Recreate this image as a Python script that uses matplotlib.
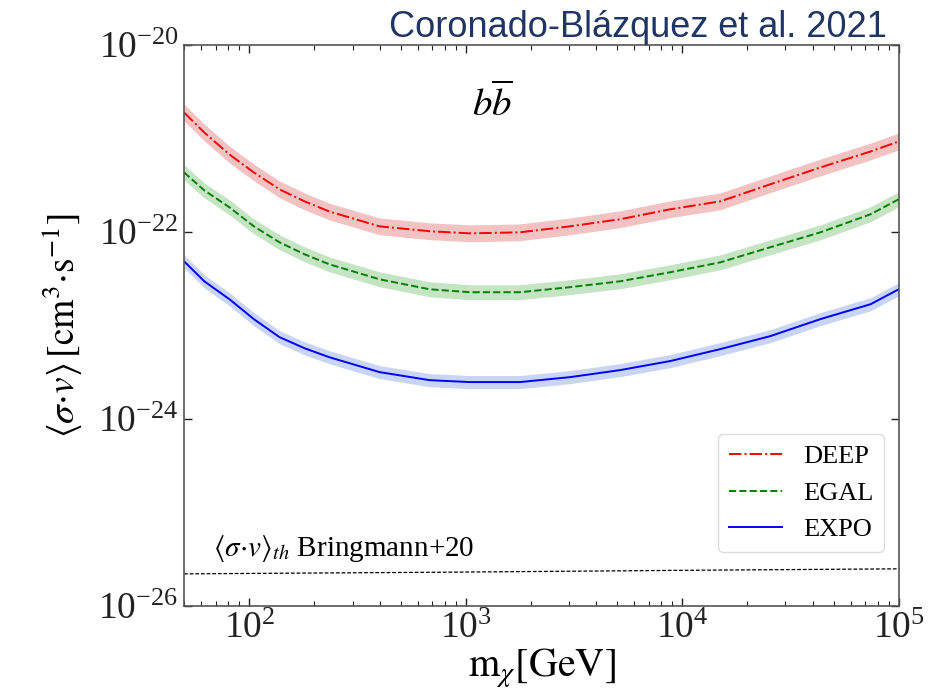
import numpy as np
import matplotlib
matplotlib.use("Agg")
import matplotlib.pyplot as plt

plt.rcParams['font.family'] = ['Liberation Serif', 'DejaVu Serif']
plt.rcParams['mathtext.fontset'] = 'stix'

# dark matter mass [GeV] where the curves were read
mass = [50, 62, 81, 105, 138, 180, 234, 400, 681, 1045, 1778, 3030, 5160,
        8790, 15000, 25500, 43500, 74200, 1e5]

# <sigma v> limits [cm^3 s^-1]
deep = [1.90e-21, 1.16e-21, 6.76e-22, 4.34e-22, 2.86e-22, 2.13e-22, 1.66e-22,
        1.15e-22, 1.02e-22, 9.68e-23, 9.93e-23, 1.15e-22, 1.37e-22, 1.75e-22,
        2.13e-22, 3.24e-22, 4.91e-22, 7.28e-22, 9.31e-22]
egal = [4.34e-22, 2.79e-22, 1.84e-22, 1.15e-22, 7.76e-23, 5.78e-23, 4.52e-23,
        3.12e-23, 2.44e-23, 2.27e-23, 2.27e-23, 2.57e-23, 2.97e-23, 3.71e-23,
        4.74e-23, 6.87e-23, 9.93e-23, 1.55e-22, 2.24e-22]
expo = [4.86e-23, 2.97e-23, 1.91e-23, 1.17e-23, 7.50e-24, 5.71e-24, 4.58e-24,
        3.17e-24, 2.60e-24, 2.48e-24, 2.48e-24, 2.80e-24, 3.33e-24, 4.16e-24,
        5.59e-24, 7.69e-24, 1.17e-23, 1.69e-23, 2.44e-23]

# half width of the shaded bands, in dex
band_deep = 0.09
band_egal = 0.08
band_expo = 0.07

# thermal cross section, Bringmann+20
th_mass = [50, 1e3, 1e4, 1e5]
th_sv = [2.20e-26, 2.30e-26, 2.40e-26, 2.49e-26]

fig = plt.figure(figsize=(9.44, 6.94), dpi=100)
ax = fig.add_axes([0.195, 0.127, 0.757, 0.808])

m = np.array(mass)
for vals, band, col, fcol, ls, lab in [
        (deep, band_deep, 'red', 'tab:red', '-.', 'DEEP'),
        (egal, band_egal, 'green', 'tab:green', '--', 'EGAL'),
        (expo, band_expo, 'blue', 'royalblue', '-', 'EXPO')]:
    v = np.array(vals)
    ax.fill_between(m, v / 10**band, v * 10**band, color=fcol, alpha=0.28, lw=0)
    ax.plot(m, v, color=col, ls=ls, lw=1.4, label=lab)

ax.plot(th_mass, th_sv, color='black', ls='--', lw=0.9, dashes=(3, 1.5))

ax.set_xscale('log')
ax.set_yscale('log')
ax.set_xlim(50, 1e5)
ax.set_ylim(1e-26, 1e-20)
ax.set_yticks([1e-26, 1e-24, 1e-22, 1e-20])
ax.yaxis.set_minor_locator(matplotlib.ticker.NullLocator())
ax.tick_params(which='both', direction='in', top=True, right=True,
               labelsize=27, pad=4, colors='#222222')
ax.tick_params(which='major', length=6, width=1)
ax.tick_params(which='minor', length=3.5, width=0.8)
for s in ax.spines.values():
    s.set_color('#555555')
    s.set_linewidth(1.2)

ax.set_xlabel(r'$\mathrm{m}_{\chi}[\mathrm{GeV}]$', fontsize=29, labelpad=0)
ax.set_ylabel(r'$\langle\sigma{\cdot}v\rangle\,[\mathrm{cm}^3{\cdot}\mathrm{s}^{-1}]$',
              fontsize=27, labelpad=10)

ax.text(0.432, 0.893, r'$b\overline{b}$', transform=ax.transAxes,
        fontsize=28, ha='center', va='center')
ax.text(0.04, 0.103, r'$\langle\sigma{\cdot}v\rangle_{th}$ Bringmann+20',
        transform=ax.transAxes, fontsize=21, ha='left', va='center')

ax.legend(loc='lower right', bbox_to_anchor=(0.979, 0.096), borderaxespad=0,
          fontsize=19, handlelength=2.0, labelspacing=0.5, framealpha=1,
          edgecolor='#dddddd')

fig.text(0.94, 0.961, 'Coronado-Blázquez et al. 2021', ha='right', va='center',
         fontsize=26, color='#1f3565', family=['Liberation Sans', 'DejaVu Sans'])

fig.savefig('out.png', dpi=100)
